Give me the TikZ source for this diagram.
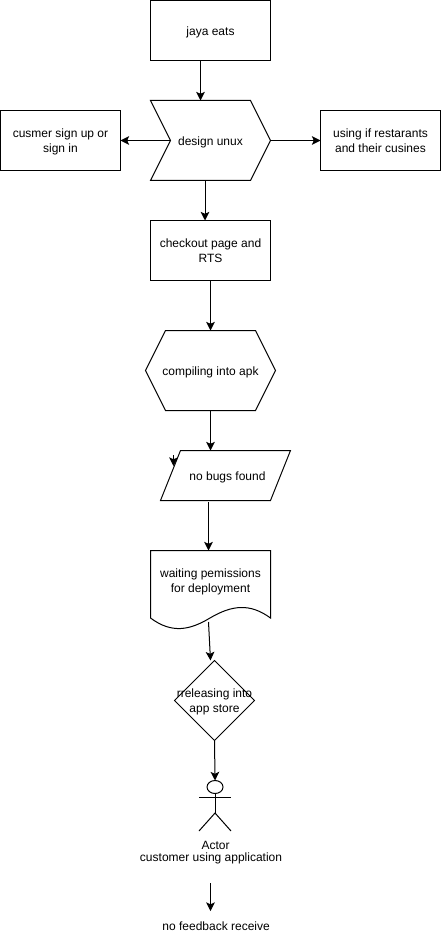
\documentclass[tikz,border=0pt]{standalone}
\usepackage{fontspec}
\setmainfont{Liberation Sans}
\usetikzlibrary{arrows.meta}
\usetikzlibrary{positioning}
\usetikzlibrary{shapes.geometric}

\newcommand{\firstline}{\rule{0pt}{9.4pt}}

\begin{document}
\begin{tikzpicture}[
		x=0.75pt, y=-0.75pt,
		line width=0.75pt,
		node distance=30pt,
		every node/.style={font=\fontsize{9pt}{11.25pt}\selectfont, align=center, inner sep=0pt, outer sep=0pt},
		lines/.style={execute at begin node={\rule{0pt}{9pt}}, execute at end node={\rule[-2pt]{0pt}{2pt}}},
		block/.style={draw, lines, minimum width=90pt, minimum height=45pt},
		body/.style={lines, minimum width=#1, minimum height=45pt},
		arrow/.style={-{Stealth[length=6.5pt, width=6.5pt, inset=1.5pt]}},
	]
	\useasboundingbox (0,0) rectangle (441,941);

	\node[block] (jaya) at (210.5,30.5) {jaya eats};
	\node[body=90pt, minimum height=60pt, below=30pt of jaya] (design) {design unux};
	\node[block, left=22.5pt of design] (signin) {\firstline cusmer sign up or\\sign in};
	\node[block, right=37.5pt of design] (using) {\firstline using if restarants\\and their cusines};
	\node[block, below=30pt of design] (checkout) {\firstline checkout page and\\RTS};
	\node[body=97.5pt, minimum height=60pt, below=37.5pt of checkout] (apk) {compiling into apk};
	\node[body=97.5pt, minimum height=37.5pt, below=30pt of apk, xshift=11.25pt] (bugs) {\hspace{3pt}no bugs found};
	\node[body=90pt, below=37.5pt of bugs, xshift=-11.25pt] (wait) {\firstline waiting pemissions\\for deployment};
	\node[body=60pt, minimum height=60pt, below=37.5pt of wait, xshift=3pt] (release) {\firstline rreleasing into\\app store};
	\node[draw, ellipse, minimum width=12pt, minimum height=9.75pt, below=30pt of release, xshift=0.4pt] (head) {};
	\node[below=36pt of head, xshift=0.4pt] (actor) {Actor};
	\node[below=2pt of actor, xshift=-3.4pt] (customer) {customer using application};
	\node[below=43.5pt of customer, xshift=3.8pt] (feedback) {no feedback receive};

	% outlines of the shapes that are not plain boxes
	\draw (design.north west) -- ([xshift=-15pt]design.north east) -- (design.east)
		-- ([xshift=-15pt]design.south east) -- (design.south west) -- ([xshift=15pt]design.west) -- cycle;
	\draw (apk.west) -- ([xshift=15pt]apk.north west) -- ([xshift=-15pt]apk.north east)
		-- (apk.east) -- ([xshift=-15pt]apk.south east) -- ([xshift=15pt]apk.south west) -- cycle;
	\draw ([xshift=15pt]bugs.north west) -- (bugs.north east) -- ([xshift=-15pt]bugs.south east) -- (bugs.south west) -- cycle;
	\draw (wait.north west) -- (wait.north east) -- (270.5,618)
		.. controls (250,603) and (232,605) .. (210,618)
		.. controls (190,630) and (172,634) .. (150.5,618) -- cycle;
	\draw (release.north) -- (release.east) -- (release.south) -- (release.west) -- cycle;

	% the actor
	\coordinate (hip) at (head |- 0,813);
	\draw (head.south) -- (hip);
	\draw (199,797) -- (231,797);
	\draw (199,831) -- (hip) -- (231,831);

	% free ends, where a connector does not start at the middle of a side
	\coordinate (jayaout) at (200.5,60.5);
	\coordinate (designin) at (200.5,100.5);
	\coordinate (designout) at (205,180.5);
	\coordinate (checkin) at (205,220.5);
	\coordinate (checkout2) at (210.5,280.5);
	\coordinate (apkin) at (210.5,330.5);
	\coordinate (apkout) at (210.5,410.5);
	\coordinate (bugsin) at (210.5,450.5);
	\coordinate (stubtop) at (173.5,455);
	\coordinate (stubend) at (173.5,466);
	\coordinate (bugsout) at (208.5,502);
	\coordinate (waitin) at (208.5,550.5);
	\coordinate (waitout) at (208.5,622);
	\coordinate (releasein) at (210.5,660.5);
	\coordinate (custout) at (210.5,883);
	\coordinate (feedin) at (210.5,911);

	\draw[arrow] (jayaout) -- (designin);
	\draw[arrow] ([xshift=15pt]design.west) -- (signin.east);
	\draw[arrow] (design.east) -- (using.west);
	\draw[arrow] (designout) -- (checkin);
	\draw[arrow] (checkout2) -- (apkin);
	\draw[arrow] (apkout) -- (bugsin);
	\draw[arrow] (stubtop) -- (stubend);
	\draw[arrow] (bugsout) -- (waitin);
	\draw[arrow] (waitout) -- (releasein);
	\draw[arrow] (release.south) -- (head.north);
	\draw[arrow] (custout) -- (feedin);
\end{tikzpicture}
\end{document}
